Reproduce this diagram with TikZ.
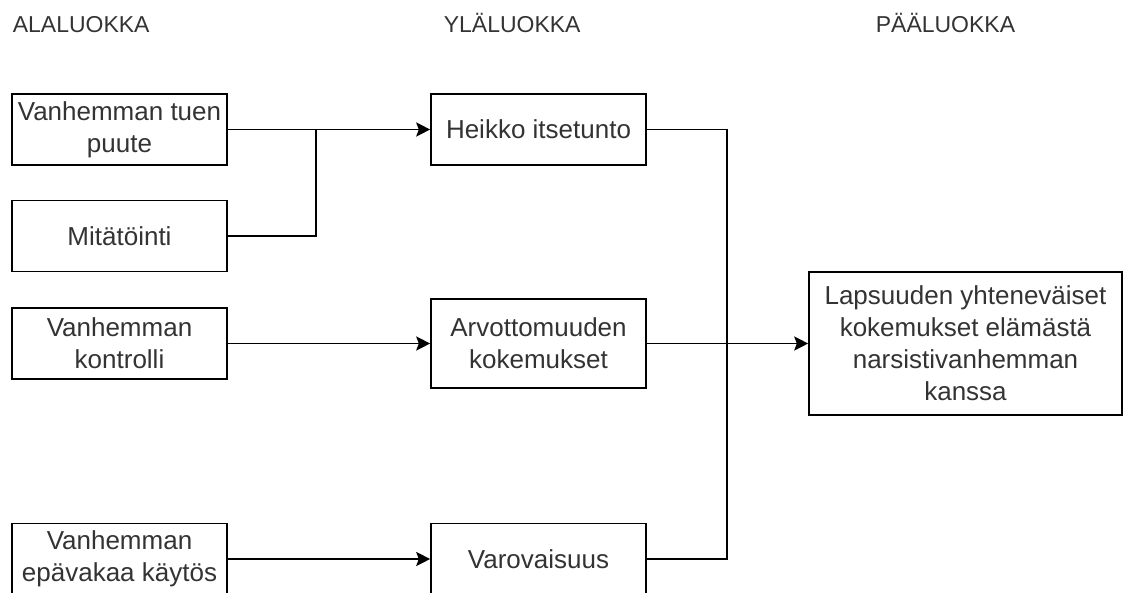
\documentclass[tikz,border=0pt]{standalone}
\usepackage{fontspec}
\setmainfont{Liberation Sans}
\usetikzlibrary{arrows.meta}
\usetikzlibrary{positioning}
\tikzset{>={Stealth[length=7pt, width=7pt, inset=1.3pt]}}
\tikzstyle{box} = [rectangle, draw=black, align=center, text=black!80, inner sep=0, minimum width=107.5pt, minimum height=35.5pt, font=\fontsize{13}{16}\selectfont]
\tikzstyle{head} = [draw=none, anchor=base west, text=black!80, inner sep=0, font=\fontsize{11.5}{14}\selectfont]

\begin{document}
\begin{tikzpicture}[x=0.5pt, y=-0.5pt, line width=0.8pt]
\useasboundingbox (0,0) rectangle (1138,593);
% otsikot
\node [head] (H1) at (12, 33) {ALALUOKKA};
\node [head] (H2) at (443, 33) {YLÄLUOKKA};
\node [head] (H3) at (875, 33) {PÄÄLUOKKA};
% alaluokat
\node [box] (A1) at (119.5, 129.5) {Vanhemman tuen\\puute};
\node [box] (A2) at (119.5, 236) {Mitätöinti};
\node [box] (A3) at (119.5, 343.5) {Vanhemman\\kontrolli};
\node [box] (A4) at (119.5, 559) {Vanhemman\\epävakaa käytös};
% yläluokat
\node [box] (B1) at (538.5, 129.5) {Heikko itsetunto};
\node [box, minimum height=44.5pt] (B2) at (538.5, 343.5) {Arvottomuuden\\kokemukset};
\node [box] (B3) at (538.5, 559) {Varovaisuus};
% pääluokka
\node [box, minimum width=156.5pt, minimum height=71.5pt] (C) at (965.5, 343.5) {Lapsuuden yhteneväiset\\kokemukset elämästä\\narsistivanhemman\\kanssa};
\coordinate (J1) at (316, 129.5);
\coordinate (J2) at (727, 343.5);
\draw [->] (A1) -- (B1);
\draw (A2.east) -| (J1);
\draw [->] (A3) -- (B2);
\draw [->] (A4) -- (B3);
\draw (B1.east) -| (J2);
\draw (B3.east) -| (J2);
\draw [->] (B2) -- (C);
\end{tikzpicture}
\end{document}
